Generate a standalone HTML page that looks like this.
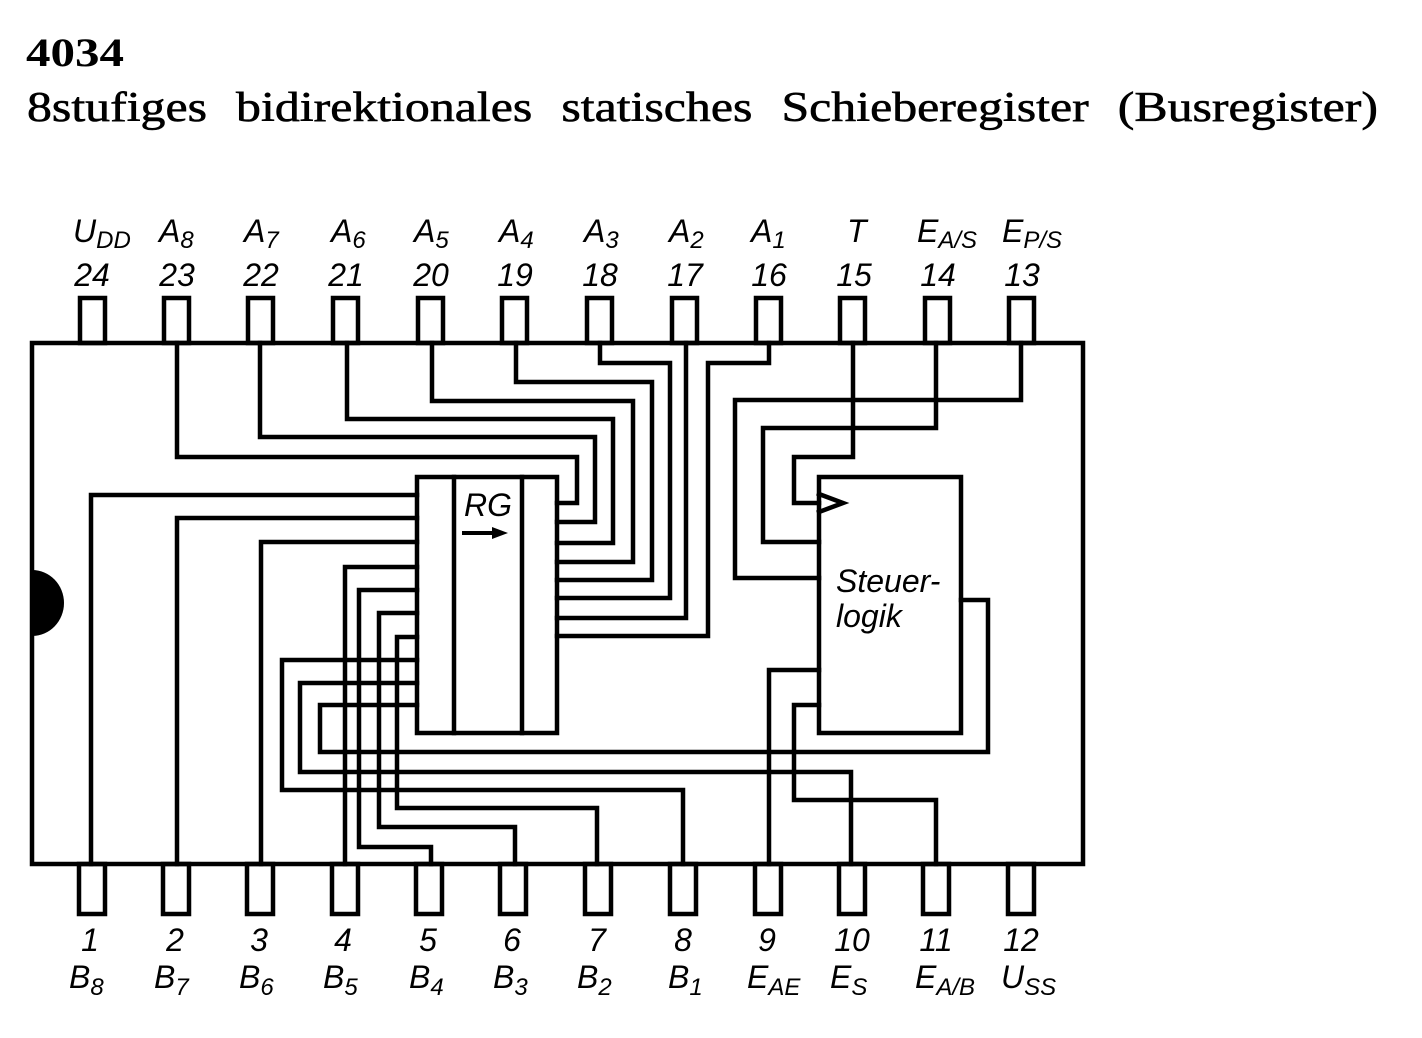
<!DOCTYPE html>
<html><head><meta charset="utf-8"><style>
html,body{margin:0;padding:0;background:#fff;}
svg{display:block}
.l{font-family:"Liberation Sans",sans-serif;font-style:italic;font-size:32px;fill:#000}
.s{font-size:24px}
</style></head><body>
<svg width="1422" height="1038" viewBox="0 0 1422 1038" xmlns="http://www.w3.org/2000/svg">
<text x="26" y="66" font-family="Liberation Serif,serif" font-weight="bold" font-size="40" textLength="98" lengthAdjust="spacingAndGlyphs">4034</text>
<text x="27" y="121" font-family="Liberation Serif,serif" font-size="42" stroke="#000" stroke-width="0.6" textLength="1351" lengthAdjust="spacingAndGlyphs" word-spacing="14">8stufiges bidirektionales statisches Schieberegister (Busregister)</text>

<g fill="none" stroke="#000" stroke-width="4.5" stroke-linejoin="miter" stroke-linecap="square">
<rect x="32" y="343" width="1051" height="521"/>
<g>
<rect x="80" y="298" width="25" height="45"/><rect x="164" y="298" width="25" height="45"/>
<rect x="248" y="298" width="25" height="45"/><rect x="333" y="298" width="25" height="45"/>
<rect x="418" y="298" width="25" height="45"/><rect x="502" y="298" width="25" height="45"/>
<rect x="587" y="298" width="25" height="45"/><rect x="672" y="298" width="25" height="45"/>
<rect x="756" y="298" width="25" height="45"/><rect x="840" y="298" width="25" height="45"/>
<rect x="925" y="298" width="25" height="45"/><rect x="1009" y="298" width="25" height="45"/>
</g>
<g>
<rect x="79" y="864" width="26" height="50"/><rect x="163" y="864" width="26" height="50"/>
<rect x="247" y="864" width="26" height="50"/><rect x="332" y="864" width="26" height="50"/>
<rect x="416" y="864" width="26" height="50"/><rect x="500" y="864" width="26" height="50"/>
<rect x="585" y="864" width="26" height="50"/><rect x="670" y="864" width="26" height="50"/>
<rect x="755" y="864" width="26" height="50"/><rect x="839" y="864" width="26" height="50"/>
<rect x="923" y="864" width="26" height="50"/><rect x="1008" y="864" width="26" height="50"/>
</g>
<rect x="417" y="477" width="140" height="256"/>
<line x1="454" y1="477" x2="454" y2="733"/>
<line x1="522" y1="477" x2="522" y2="733"/>
<rect x="819" y="477" width="142" height="256"/>
<polyline points="819,494 843,503 819,512"/>

<polyline points="177,343 177,457 577,457 577,503 557,503"/>
<polyline points="260,343 260,437 595,437 595,522 557,522"/>
<polyline points="347,343 347,419 613,419 613,543 557,543"/>
<polyline points="432,343 432,401 633,401 633,562 557,562"/>
<polyline points="516,343 516,382 652,382 652,580 557,580"/>
<polyline points="600,343 600,363 670,363 670,598 557,598"/>
<polyline points="686,343 686,618 557,618"/>
<polyline points="769,343 769,363 708,363 708,636 557,636"/>
<polyline points="853,343 853,457 794,457 794,503 819,503"/>
<polyline points="936,343 936,428 763,428 763,542 819,542"/>
<polyline points="1021,343 1021,400 735,400 735,578 819,578"/>
<polyline points="91,864 91,495 417,495"/>
<polyline points="177,864 177,518 417,518"/>
<polyline points="261,864 261,542 417,542"/>
<polyline points="345,864 345,567 417,567"/>
<polyline points="417,590 359,590 359,847 431,847 431,864"/>
<polyline points="417,613 379,613 379,827 515,827 515,864"/>
<polyline points="417,637 397,637 397,808 597,808 597,864"/>
<polyline points="417,660 282,660 282,790 683,790 683,864"/>
<polyline points="417,683 300,683 300,772 851,772 851,864"/>
<polyline points="417,705 320,705 320,752 988,752 988,600 961,600"/>
<polyline points="819,670 769,670 769,864"/>
<polyline points="819,705 794,705 794,800 936,800 936,864"/>
</g>
<path d="M32,570 A32,33 0 0 1 32,636 Z" fill="#000"/>
<text x="464" y="516" class="l" font-size="24">RG</text>
<line x1="462" y1="533" x2="496" y2="533" stroke="#000" stroke-width="4"/>
<polygon points="492,527 508,533 492,539" fill="#000"/>
<text x="836" y="592" class="l" font-size="27">Steuer-</text>
<text x="836" y="627" class="l" font-size="27">logik</text>

<g class="l" text-anchor="middle">
<text x="92" y="286">24</text><text x="177" y="286">23</text><text x="261" y="286">22</text>
<text x="346" y="286">21</text><text x="431" y="286">20</text><text x="515" y="286">19</text>
<text x="600" y="286">18</text><text x="685" y="286">17</text><text x="769" y="286">16</text>
<text x="854" y="286">15</text><text x="938" y="286">14</text><text x="1022" y="286">13</text>
</g>
<g class="l">
<text x="73" y="242">U<tspan class="s" dy="6">DD</tspan></text>
<text x="159" y="242">A<tspan class="s" dy="6">8</tspan></text>
<text x="244" y="242">A<tspan class="s" dy="6">7</tspan></text>
<text x="331" y="242">A<tspan class="s" dy="6">6</tspan></text>
<text x="414" y="242">A<tspan class="s" dy="6">5</tspan></text>
<text x="499" y="242">A<tspan class="s" dy="6">4</tspan></text>
<text x="584" y="242">A<tspan class="s" dy="6">3</tspan></text>
<text x="669" y="242">A<tspan class="s" dy="6">2</tspan></text>
<text x="751" y="242">A<tspan class="s" dy="6">1</tspan></text>
<text x="847" y="242">T</text>
<text x="917" y="242">E<tspan class="s" dy="6">A/S</tspan></text>
<text x="1002" y="242">E<tspan class="s" dy="6">P/S</tspan></text>
</g>
<g class="l" text-anchor="middle">
<text x="90" y="951">1</text><text x="175" y="951">2</text><text x="259" y="951">3</text>
<text x="343" y="951">4</text><text x="428" y="951">5</text><text x="512" y="951">6</text>
<text x="597" y="951">7</text><text x="683" y="951">8</text><text x="767" y="951">9</text>
<text x="852" y="951">10</text><text x="936" y="951">11</text><text x="1021" y="951">12</text>
</g>
<g class="l">
<text x="69" y="988">B<tspan class="s" dy="7">8</tspan></text>
<text x="154" y="988">B<tspan class="s" dy="7">7</tspan></text>
<text x="239" y="988">B<tspan class="s" dy="7">6</tspan></text>
<text x="323" y="988">B<tspan class="s" dy="7">5</tspan></text>
<text x="409" y="988">B<tspan class="s" dy="7">4</tspan></text>
<text x="493" y="988">B<tspan class="s" dy="7">3</tspan></text>
<text x="577" y="988">B<tspan class="s" dy="7">2</tspan></text>
<text x="668" y="988">B<tspan class="s" dy="7">1</tspan></text>
<text x="747" y="988">E<tspan class="s" dy="7">AE</tspan></text>
<text x="830" y="988">E<tspan class="s" dy="7">S</tspan></text>
<text x="915" y="988">E<tspan class="s" dy="7">A/B</tspan></text>
<text x="1001" y="988">U<tspan class="s" dy="7">SS</tspan></text>
</g>
</svg>
</body></html>
